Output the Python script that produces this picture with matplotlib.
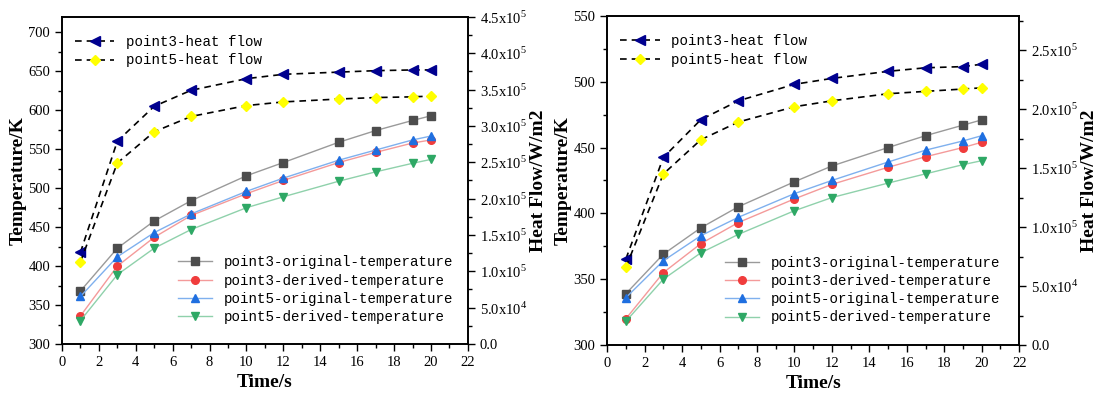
import numpy as np
import matplotlib
matplotlib.use("Agg")
import matplotlib.pyplot as plt
from matplotlib.ticker import MultipleLocator, FuncFormatter

# Data
time_s = [1, 3, 5, 7, 10, 12, 15, 17, 19, 20]

# left panel
a_p3_orig = [368, 423, 458, 484, 516, 533, 559, 574, 587, 593]
a_p3_der = [336, 400, 437, 465, 493, 510, 533, 546, 558, 562]
a_p5_orig = [361, 412, 443, 467, 496, 513, 536, 549, 562, 567]
a_p5_der = [330, 389, 423, 447, 475, 489, 509, 521, 532, 537]
a_p3_flow = [1.26e5, 2.79e5, 3.27e5, 3.49e5, 3.65e5, 3.71e5, 3.74e5, 3.76e5, 3.77e5, 3.77e5]
a_p5_flow = [1.13e5, 2.49e5, 2.92e5, 3.13e5, 3.28e5, 3.33e5, 3.37e5, 3.39e5, 3.40e5, 3.41e5]

# right panel
b_p3_orig = [339, 369, 389, 405, 424, 436, 450, 459, 467, 471]
b_p3_der = [320, 355, 377, 393, 411, 422, 435, 443, 450, 454]
b_p5_orig = [336, 364, 383, 397, 415, 425, 439, 448, 455, 459]
b_p5_der = [318, 350, 370, 384, 402, 412, 423, 430, 437, 440]
b_p3_flow = [0.73e5, 1.59e5, 1.91e5, 2.07e5, 2.21e5, 2.26e5, 2.32e5, 2.35e5, 2.36e5, 2.38e5]
b_p5_flow = [0.66e5, 1.45e5, 1.74e5, 1.89e5, 2.02e5, 2.07e5, 2.13e5, 2.15e5, 2.17e5, 2.18e5]

temp_labels = ["point3-original-temperature", "point3-derived-temperature",
               "point5-original-temperature", "point5-derived-temperature"]
flow_labels = ["point3-heat flow", "point5-heat flow"]

plt.rcParams['font.family'] = 'Liberation Serif'
plt.rcParams['mathtext.fontset'] = 'custom'
plt.rcParams['mathtext.rm'] = 'Liberation Serif'


def sci_fmt(v, pos):
    if v == 0:
        return "0.0"
    e = int(np.floor(np.log10(abs(v)) + 1e-9))
    m = v / 10**e
    return f"{m:.1f}x10$^{{{e}}}$"


def draw_panel(fig, rect, temps, flows, ylim, y2lim):
    ax = fig.add_axes(rect)
    ax2 = ax.twinx()

    styles = [("#4d4d4d", "#9a9a9a", "s"), ("#f03c3c", "#f49a9a", "o"),
              ("#1f6fe0", "#7fb0ee", "^"), ("#2ea865", "#8fd1ab", "v")]
    handles = []
    for vals, lab, (mc, lc, mk) in zip(temps, temp_labels, styles):
        h, = ax.plot(time_s, vals, color=lc, lw=1.0, marker=mk, markersize=5.5,
                     markerfacecolor=mc, markeredgecolor=mc, label=lab)
        handles.append(h)

    h1, = ax2.plot(time_s, flows[0], color="black", ls=(0, (4, 3)), lw=1.2,
                   marker="<", markersize=6.5, markerfacecolor="#00008f",
                   markeredgecolor="#00008f", label=flow_labels[0])
    h2, = ax2.plot(time_s, flows[1], color="black", ls=(0, (4, 3)), lw=1.2,
                   marker="D", markersize=5, markerfacecolor="#ffff00",
                   markeredgecolor="#ffff00", label=flow_labels[1])
    fh = [h1, h2]

    ax.set_xlim(0, 22)
    ax.set_ylim(*ylim)
    ax2.set_ylim(*y2lim)
    ax.xaxis.set_major_locator(MultipleLocator(2))
    ax.xaxis.set_minor_locator(MultipleLocator(1))
    ax.yaxis.set_major_locator(MultipleLocator(50))
    ax.yaxis.set_minor_locator(MultipleLocator(25))
    ax2.yaxis.set_major_locator(MultipleLocator(0.5e5))
    ax2.yaxis.set_minor_locator(MultipleLocator(0.25e5))
    ax2.yaxis.set_major_formatter(FuncFormatter(sci_fmt))

    for a in (ax, ax2):
        a.tick_params(which="major", direction="out", length=5, width=1.0, labelsize=10.5)
        a.tick_params(which="minor", direction="out", length=3, width=1.0)
        for s in a.spines.values():
            s.set_linewidth(1.2)

    ax.set_xlabel("Time/s", fontsize=14, fontweight="bold", labelpad=4)
    ax.set_ylabel("Temperature/K", fontsize=14, fontweight="bold", labelpad=1)
    ax2.set_ylabel("Heat Flow/W/m2", fontsize=14, fontweight="bold", labelpad=2)

    leg1 = ax2.legend(handles=fh, loc="upper left", bbox_to_anchor=(0.0, 0.985),
                      frameon=False, prop={"family": "Liberation Mono", "size": 10.2},
                      handlelength=2.8, labelspacing=0.35)
    ax2.add_artist(leg1)
    ax2.legend(handles=handles, loc="upper left", bbox_to_anchor=(0.255, 0.31),
               frameon=False, prop={"family": "Liberation Mono", "size": 10.2},
               handlelength=2.4, labelspacing=0.3)
    return ax, ax2


fig = plt.figure(figsize=(10.97, 3.97), dpi=100)
draw_panel(fig, [0.0565, 0.1335, 0.370, 0.824],
           [a_p3_orig, a_p3_der, a_p5_orig, a_p5_der], [a_p3_flow, a_p5_flow],
           (300, 720), (0, 4.5e5))
draw_panel(fig, [0.5535, 0.131, 0.3756, 0.829],
           [b_p3_orig, b_p3_der, b_p5_orig, b_p5_der], [b_p3_flow, b_p5_flow],
           (300, 550), (0, 2.79e5))

fig.savefig("out.png", dpi=100)
